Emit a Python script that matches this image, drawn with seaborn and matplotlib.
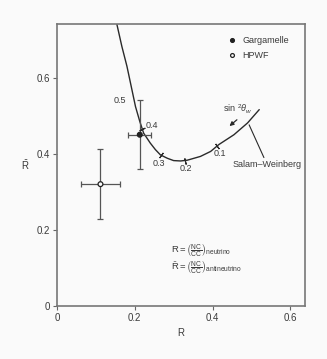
import numpy as np
import pandas as pd
import matplotlib
matplotlib.use("Agg")
import matplotlib.pyplot as plt
import seaborn as sns

# Salam-Weinberg curve (R, R-bar)
curve_R = [0.154, 0.167, 0.180, 0.191, 0.202, 0.213, 0.223, 0.240, 0.253, 0.266, 0.284,
           0.300, 0.318, 0.335, 0.369, 0.395, 0.416, 0.455, 0.490, 0.520]
curve_Rbar = [0.741, 0.682, 0.630, 0.577, 0.524, 0.485, 0.454, 0.428, 0.411, 0.397, 0.388,
              0.382, 0.381, 0.383, 0.393, 0.406, 0.424, 0.450, 0.481, 0.516]

# sin^2 theta_W marks along the curve
mark_R = [0.219, 0.268, 0.329, 0.411]
mark_Rbar = [0.466, 0.396, 0.382, 0.420]
label_vals = ["0.5", "0.4", "0.3", "0.2", "0.1"]
label_R = [0.161, 0.244, 0.262, 0.332, 0.419]
label_Rbar = [0.541, 0.474, 0.374, 0.361, 0.400]

# experiments
experiments = ["Gargamelle", "HPWF"]
exp_R = [0.213, 0.112]
exp_Rbar = [0.450, 0.320]
exp_Rerr = [0.030, 0.050]
exp_Rbar_err = [0.090, 0.092]

x_ticks = [0, 0.2, 0.4, 0.6]
x_ticklabels = ["0", "0.2", "0.4", "0.6"]
y_ticks = [0, 0.2, 0.4, 0.6]
y_ticklabels = ["0", "0.2", "0.4", "0.6"]

sns.set_style("white")
plt.rcParams['font.family'] = ['Liberation Sans Narrow', 'Liberation Sans', 'DejaVu Sans']
plt.rcParams['mathtext.fontset'] = 'custom'
plt.rcParams['mathtext.rm'] = 'Liberation Sans'
plt.rcParams['mathtext.it'] = 'Liberation Sans:italic'

fg = "#3a3a3a"
bg = "#fafafa"
fig = plt.figure(figsize=(3.27, 3.59), dpi=100, facecolor=bg)
ax = fig.add_axes([0.174, 0.148, 0.758, 0.785])
ax.set_facecolor(bg)

df_curve = pd.DataFrame({"R": curve_R, "Rbar": curve_Rbar})
sns.lineplot(data=df_curve, x="R", y="Rbar", sort=False, color="#2a2a2a", lw=1.0, ax=ax, legend=False)

ax.set_xlim(0, 0.637)
ax.set_ylim(0, 0.741)

# tick marks perpendicular to the curve
fig.canvas.draw()
cr = np.array(curve_R); cb = np.array(curve_Rbar)
pts = ax.transData.transform(np.column_stack([cr, cb]))
for r, rb in zip(mark_R, mark_Rbar):
    p = ax.transData.transform((r, rb))
    i = np.argmin(np.hypot(pts[:, 0] - p[0], pts[:, 1] - p[1]))
    i0, i1 = max(i - 1, 0), min(i + 1, len(pts) - 1)
    d = pts[i1] - pts[i0]
    ang = np.degrees(np.arctan2(d[1], d[0]))
    ax.plot([r], [rb], marker=(2, 2, ang), markersize=4.5, color="#2a2a2a", mew=0.8, zorder=4)

for t, r, rb in zip(label_vals, label_R, label_Rbar):
    ax.text(r, rb, t, fontsize=6.5, color=fg, ha="center", va="center")

# data points
df_exp = pd.DataFrame({"R": exp_R, "Rbar": exp_Rbar, "exp": experiments})
ax.errorbar(exp_R, exp_Rbar, xerr=exp_Rerr, yerr=exp_Rbar_err, fmt="none",
            ecolor="#555555", elinewidth=0.9, capsize=2, capthick=0.9, zorder=3)
sns.scatterplot(data=df_exp, x="R", y="Rbar", hue="exp", hue_order=experiments,
                palette={"Gargamelle": "#222222", "HPWF": bg}, edgecolor="#222222",
                linewidth=0.9, s=12, ax=ax, zorder=5)
leg = ax.legend(loc="upper right", bbox_to_anchor=(0.97, 0.985), frameon=False, fontsize=6.5,
                handletextpad=0.2, labelspacing=0.6, markerscale=0.8)
for txt in leg.get_texts():
    txt.set_color(fg)

# annotations
ax.text(0.464, 0.516, r"sin $^2\theta_w$", fontsize=6.5, color=fg, ha="center", va="center")
ax.annotate("", xy=(0.438, 0.468), xytext=(0.468, 0.494),
            arrowprops=dict(arrowstyle="-|>", color="#2a2a2a", lw=0.9, mutation_scale=6))
ax.plot([0.494, 0.532], [0.476, 0.390], color="#2a2a2a", lw=0.8)
ax.text(0.541, 0.371, "Salam\u2013Weinberg", fontsize=6.5, color=fg, ha="center", va="center")

ax.text(0.294, 0.145, r"$\mathrm{R} = \left(\frac{\mathrm{NC}}{\mathrm{CC}}\right)_{\mathrm{neutrino}}$",
        fontsize=6.8, color=fg, ha="left", va="center")
ax.text(0.294, 0.099, r"$\bar{\mathrm{R}} = \left(\frac{\mathrm{NC}}{\mathrm{CC}}\right)_{\mathrm{antineutrino}}$",
        fontsize=6.8, color=fg, ha="left", va="center")

ax.set_xticks(x_ticks)
ax.set_xticklabels(x_ticklabels)
ax.set_yticks(y_ticks)
ax.set_yticklabels(y_ticklabels)
ax.tick_params(axis="both", which="both", direction="out", length=3, width=0.8,
               colors="#666666", labelcolor=fg, labelsize=7, pad=2, left=True, bottom=True)
ax.set_xlabel("R", fontsize=7, color=fg, labelpad=4)
ax.set_ylabel(r"$\bar{\mathrm{R}}$", fontsize=7, color=fg, rotation=0, labelpad=8, va="center")
for s in ax.spines.values():
    s.set_color("#777777")
    s.set_linewidth(1.2)

fig.savefig("out.png", dpi=100, facecolor=bg)
